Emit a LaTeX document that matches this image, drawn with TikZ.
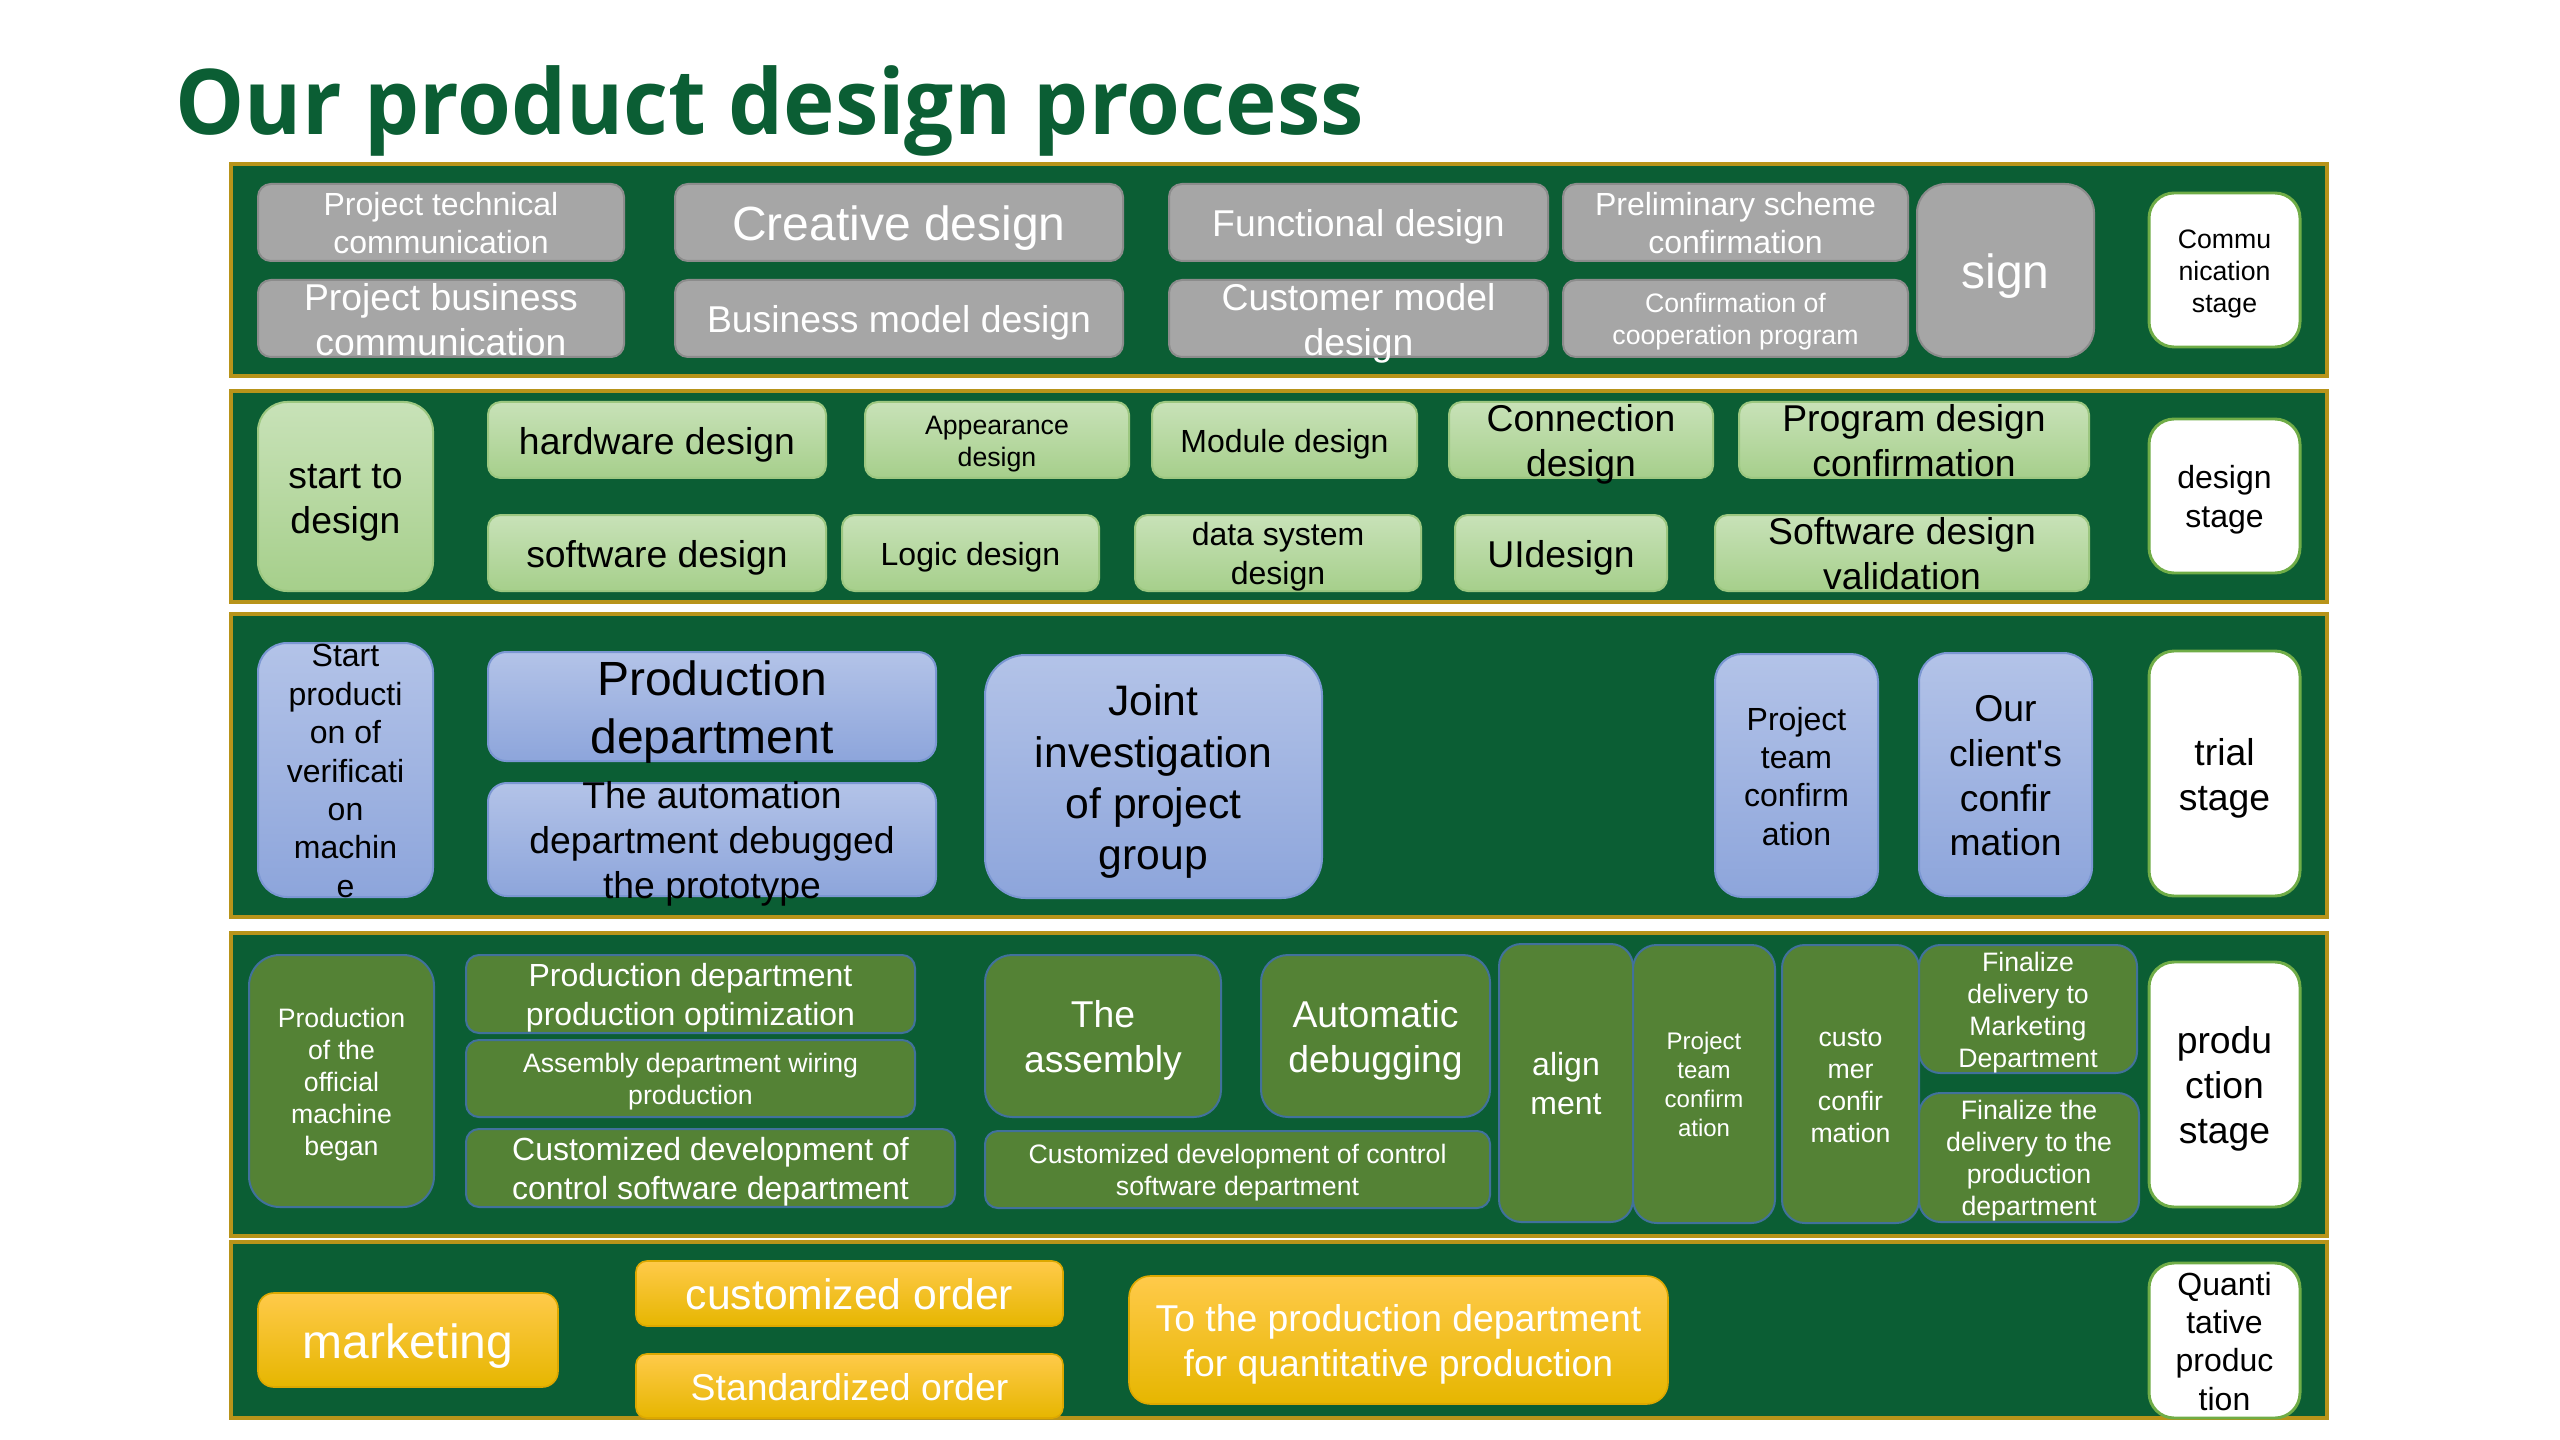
\documentclass[tikz,border=0pt]{standalone}
\usepackage{fontspec}
\setmainfont{Liberation Sans}[Ligatures=TeXOff]
\newfontfamily\titlefont{Open Sans}
\usepackage{graphicx}
\definecolor{bandgreen}{HTML}{0B5E34}
\definecolor{bandgold}{HTML}{B8941A}
\definecolor{grayfill}{HTML}{A6A6A6}
\definecolor{grayedge}{HTML}{8C8C8C}
\definecolor{lgtop}{HTML}{C8E2B8}
\definecolor{lgbot}{HTML}{A6CF8B}
\definecolor{lgedge}{HTML}{9CC780}
\definecolor{bltop}{HTML}{B3C3E8}
\definecolor{blbot}{HTML}{8DA5DB}
\definecolor{bledge}{HTML}{7B97D3}
\definecolor{dgfill}{HTML}{548235}
\definecolor{dgedge}{HTML}{41719C}
\definecolor{gdtop}{HTML}{FFCA4A}
\definecolor{gdmid}{HTML}{FFC000}
\definecolor{gdbot}{HTML}{E6B600}
\definecolor{gdedge}{HTML}{DDA800}
\definecolor{stageedge}{HTML}{70AD47}
\newcommand\boxnode[7]{%
  \pgfmathsetmacro\bw{(#5-#3)*0.375}%
  \pgfmathsetmacro\bh{(#6-#4)*0.375}%
  \pgfmathsetmacro\br{0.1667*min(\bw,\bh)}%
  \node[#1, rounded corners=\br pt, inner sep=0pt] (#2) at ({(#3+#5)/2},{(#4+#6)/2})
    {\parbox[c][\bh pt][c]{\bw pt}{\centering\rule{0pt}{0.98em}#7\rule[-0.22em]{0pt}{0pt}\par}};}
\tikzset{
  f9/.style={font=\fontsize{9}{10.8}\selectfont},
  f10/.style={font=\fontsize{10}{12}\selectfont},
  f12/.style={font=\fontsize{12}{14.4}\selectfont},
  f14/.style={font=\fontsize{14}{16.8}\selectfont},
  f16/.style={font=\fontsize{16}{19.2}\selectfont},
  f18/.style={font=\fontsize{18}{21.6}\selectfont},
  band/.style={fill=bandgreen, draw=bandgold, line width=1.7pt},
  graybox/.style={draw=grayedge, fill=grayfill, text=white, line width=0.75pt},
  lgbox/.style={draw=lgedge, top color=lgtop, bottom color=lgbot, text=black, line width=0.75pt},
  bluebox/.style={draw=bledge, top color=bltop, bottom color=blbot, text=black, line width=0.75pt},
  dgbox/.style={draw=dgedge, fill=dgfill, text=white, line width=0.75pt},
  goldbox/.style={draw=gdedge, top color=gdtop, middle color=gdmid, bottom color=gdbot, text=white, line width=0.6pt},
  stagebox/.style={draw=stageedge, fill=white, text=black, line width=1.1pt}
}
\begin{document}
\begin{tikzpicture}[x=0.375pt, y=-0.375pt]
\useasboundingbox (0,0) rectangle (2560,1440);
\fill[white] (0,0) rectangle (2560,1440);
% title
\node[anchor=base west, inner sep=0pt, text=bandgreen] (title) at (175,135)
  {\resizebox{445.5pt}{\height}{\titlefont\bfseries\fontsize{34}{40}\selectfont Our product design process}};
% bands
\draw[band] (231,164) rectangle (2327,376);
\draw[band] (231,391) rectangle (2327,602);
\draw[band] (231,614) rectangle (2327,917);
\draw[band] (231,933) rectangle (2327,1236);
\draw[band] (231,1242) rectangle (2327,1418);
% band 1: communication stage
\boxnode{graybox,f12}{g1}{258}{184}{624}{261}{Project technical\\communication}
\boxnode{graybox,f14}{g2}{258}{280}{624}{357}{Project business\\communication}
\boxnode{graybox,f18}{g3}{675}{184}{1123}{261}{Creative design}
\boxnode{graybox,f14}{g4}{675}{280}{1123}{357}{Business model design}
\boxnode{graybox,f14}{g5}{1169}{184}{1548}{261}{Functional design}
\boxnode{graybox,f14}{g6}{1169}{280}{1548}{357}{Customer model\\design}
\boxnode{graybox,f12}{g7}{1563}{184}{1908}{261}{Preliminary scheme\\confirmation}
\boxnode{graybox,f10}{g8}{1563}{280}{1908}{357}{Confirmation of\\cooperation program}
\boxnode{graybox,f18}{g9}{1917}{184}{2094}{357}{sign}
\boxnode{stagebox,f10}{s1}{2149}{193}{2300}{347}{Commu\\nication\\stage}
% band 2: design stage
\boxnode{lgbox,f14}{h0}{258}{402}{433}{591}{start to\\design}
\boxnode{lgbox,f14}{h1}{488}{402}{826}{478}{hardware design}
\boxnode{lgbox,f10}{h2}{865}{402}{1129}{478}{Appearance\\design}
\boxnode{lgbox,f12}{h3}{1152}{402}{1417}{478}{Module design}
\boxnode{lgbox,f14}{h4}{1449}{402}{1713}{478}{Connection\\design}
\boxnode{lgbox,f14}{h5}{1739}{402}{2089}{478}{Program design\\confirmation}
\boxnode{lgbox,f14}{h6}{488}{515}{826}{591}{software design}
\boxnode{lgbox,f12}{h7}{842}{515}{1099}{591}{Logic design}
\boxnode{lgbox,f12}{h8}{1135}{515}{1421}{591}{data system\\design}
\boxnode{lgbox,f14}{h9}{1455}{515}{1667}{591}{UIdesign}
\boxnode{lgbox,f14}{h10}{1715}{515}{2089}{591}{Software design\\validation}
\boxnode{stagebox,f12}{s2}{2149}{419}{2300}{573}{design\\stage}
% band 3: trial stage
\boxnode{bluebox,f12}{t0}{258}{643}{433}{897}{Start\\producti\\on of\\verificati\\on\\machin\\e}
\boxnode{bluebox,f18}{t1}{488}{652}{936}{761}{Production\\department}
\boxnode{bluebox,f14}{t2}{488}{783}{936}{896}{The automation\\department debugged\\the prototype}
\boxnode{bluebox,f16}{t3}{985}{655}{1322}{898}{Joint\\investigation\\of project\\group}
\boxnode{bluebox,f12}{t4}{1715}{654}{1878}{897}{Project\\team\\confirm\\ation}
\boxnode{bluebox,f14}{t5}{1919}{653}{2092}{896}{Our\\client's\\confir\\mation}
\boxnode{stagebox,f14}{s3}{2149}{651}{2300}{896}{trial\\stage}
% band 4: production stage
\boxnode{dgbox,f10}{p0}{249}{955}{434}{1207}{Production\\of the\\official\\machine\\began}
\boxnode{dgbox,f12}{p1}{466}{955}{915}{1033}{Production department\\production optimization}
\boxnode{dgbox,f10}{p2}{466}{1040}{915}{1117}{Assembly department wiring\\production}
\boxnode{dgbox,f12}{p3}{466}{1129}{955}{1207}{Customized development of\\control software department}
\boxnode{dgbox,f14}{p4}{985}{955}{1221}{1117}{The\\assembly}
\boxnode{dgbox,f14}{p5}{1261}{955}{1490}{1117}{Automatic\\debugging}
\boxnode{dgbox,f10}{p6}{985}{1131}{1490}{1208}{Customized development of control\\software department}
\boxnode{dgbox,f12}{p7}{1499}{944}{1633}{1222}{align\\ment}
\boxnode{dgbox,f9}{p8}{1633}{945}{1775}{1223}{Project\\team\\confirm\\ation}
\boxnode{dgbox,f10}{p9}{1782}{945}{1919}{1223}{custo\\mer\\confir\\mation}
\boxnode{dgbox,f10}{p10}{1919}{945}{2137}{1073}{Finalize\\delivery to\\Marketing\\Department}
\boxnode{dgbox,f10}{p11}{1919}{1093}{2139}{1222}{Finalize the\\delivery to the\\production\\department}
\boxnode{stagebox,f14}{s4}{2149}{962}{2300}{1207}{produ\\ction\\stage}
% band 5: quantitative production
\boxnode{goldbox,f18}{m0}{258}{1293}{558}{1387}{marketing}
\boxnode{goldbox,f16}{m1}{636}{1261}{1063}{1326}{customized order}
\boxnode{goldbox,f14}{m2}{636}{1354}{1063}{1418}{Standardized order}
\boxnode{goldbox,f14}{m3}{1129}{1276}{1668}{1404}{To the production department\\for quantitative production}
\boxnode{stagebox,f12}{s5}{2149}{1263}{2300}{1418}{Quanti\\tative\\produc\\tion}
\end{tikzpicture}
\end{document}
